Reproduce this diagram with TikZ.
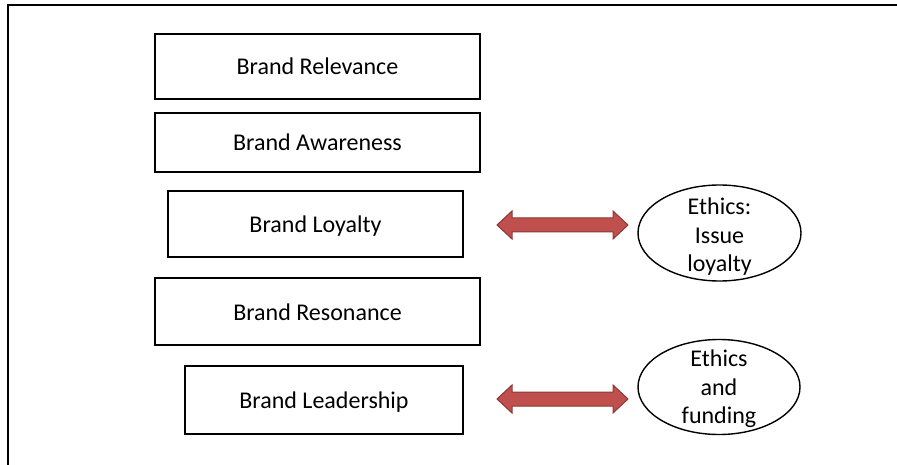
\documentclass[tikz,border=0pt]{standalone}
\usepackage{fontspec}
\setmainfont{Carlito}
\usetikzlibrary{shapes.geometric}
\begin{document}
\begin{tikzpicture}[x=1pt,y=-1pt,
  brandbox/.style={draw=black,line width=1.6pt,inner sep=0pt,text height=20pt,text depth=3pt,font=\fontsize{24}{29}\selectfont},
  ethicshape/.style={draw=black,ellipse,line width=1.4pt,inner sep=0pt},
  ethictext/.style={align=center,font=\fontsize{24}{28.5}\selectfont},
  bigarrow/.style={fill=arrowred,draw=arrowedge,line width=1pt,line join=miter}]
\definecolor{arrowred}{HTML}{C0504D}
\definecolor{arrowedge}{HTML}{8C3836}
\useasboundingbox (0,0) rectangle (897,465);
\draw[line width=1.5pt] (8,465) -- (8,5) -- (897,5);
\node[brandbox,minimum width=325,minimum height=65] (rel) at (317.5,66.5) {Brand Relevance};
\node[brandbox,minimum width=325,minimum height=59] (awa) at (317.5,142.5) {Brand Awareness};
\node[brandbox,minimum width=295,minimum height=66] (loy) at (315.5,224) {Brand Loyalty};
\node[brandbox,minimum width=325,minimum height=67] (res) at (317.5,311.5) {Brand Resonance};
\node[brandbox,minimum width=278,minimum height=68] (lea) at (324,400) {Brand Leadership};
\node[ethicshape,minimum width=163,minimum height=96] (e1) at (719.5,233) {};
\node[ethictext] (t1) at (719.5,237) {Ethics:\\Issue\\loyalty};
\node[ethicshape,minimum width=162,minimum height=95] (e2) at (719,387) {};
\node[ethictext] (t2) at (719,389) {Ethics\\and\\funding};
\draw[bigarrow] (497,225) -- (512,211) -- (512,218) -- (613,218) -- (613,211) -- (628,225) -- (613,239) -- (613,232) -- (512,232) -- (512,239) -- cycle;
\draw[bigarrow] (497,399) -- (512,385) -- (512,392) -- (613,392) -- (613,385) -- (628,399) -- (613,413) -- (613,406) -- (512,406) -- (512,413) -- cycle;
\end{tikzpicture}
\end{document}
